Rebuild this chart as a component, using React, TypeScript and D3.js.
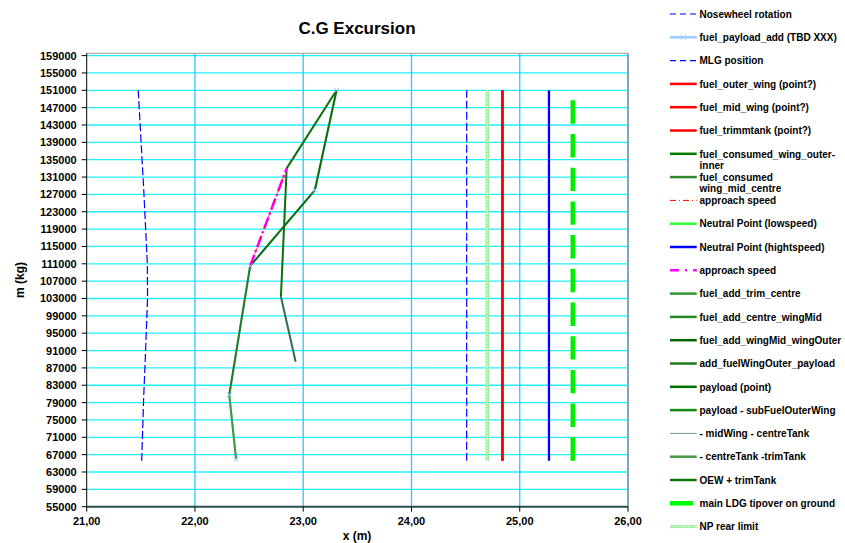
import React from "react";
import * as d3 from "d3";

const W = 845;
const H = 543;

// ---- ticks ----
const xTickValues = [21, 22, 23, 24, 25, 26];
const yTickValues = [
  55000, 59000, 63000, 67000, 71000, 75000, 79000, 83000, 87000, 91000, 95000, 99000, 103000,
  107000, 111000, 115000, 119000, 123000, 127000, 131000, 135000, 139000, 143000, 147000, 151000,
  155000, 159000,
];

// ---- series data: [x (m), mass (kg)] ----
const nosewheelRotation: [number, number][] = [
  [21.476, 151000], [21.527, 128000], [21.56, 111000], [21.562, 103000], [21.541, 89000], [21.526, 80000], [21.508, 65600],
];
const fuelPayloadAdd: [number, number][] = [
  [22.38, 65900], [22.317, 80800], [22.51, 110500], [23.108, 128000], [23.308, 151000],
];
const mlgPosition: [number, number][] = [[24.51, 65600], [24.51, 151000]];
const fuelOuterWing: [number, number][] = [[24.84, 65600], [24.84, 151000]];
const fuelMidWing: [number, number][] = [[24.84, 65600], [24.84, 151000]];
const fuelTrimmtank: [number, number][] = [[24.84, 65600], [24.84, 151000]];
const neutralPointLow: [number, number][] = [[24.7, 65600], [24.7, 151000]];
const neutralPointHigh: [number, number][] = [[25.27, 65600], [25.27, 151000]];
const mainLdgTipover: [number, number][] = [[25.49, 65600], [25.49, 151000]];
const npRearLimit: [number, number][] = [[24.7, 65600], [24.7, 151000]];
const approachSpeedRed: [number, number][] = [[22.51, 110500], [22.847, 133000]];
const approachSpeedMagenta: [number, number][] = [[22.51, 110500], [22.847, 133000]];
const oewTrimTank: [number, number][] = [[22.38, 65900], [22.317, 80800]];
const fuelAddCentreWingMid: [number, number][] = [[22.317, 80800], [22.51, 110500]];
const fuelAddWingMidWingOuter: [number, number][] = [[22.51, 110500], [23.108, 128000]];
const addFuelWingOuterPayload: [number, number][] = [[23.108, 128000], [23.308, 151000]];
const payloadSubFuelOuterWing: [number, number][] = [[23.308, 151000], [22.847, 133000]];
const fuelConsumedWingMidCentre: [number, number][] = [[22.847, 133000], [22.794, 103400]];
const centreTankTrimTank: [number, number][] = [[22.794, 103400], [22.93, 88400]];

// ---- legend ----
const legendNames = [
  "Nosewheel rotation",
  "fuel_payload_add (TBD XXX)",
  "MLG position",
  "fuel_outer_wing (point?)",
  "fuel_mid_wing (point?)",
  "fuel_trimmtank (point?)",
  "fuel_consumed_wing_outer-\ninner",
  "fuel_consumed\nwing_mid_centre",
  "approach speed",
  "Neutral Point (lowspeed)",
  "Neutral Point (hightspeed)",
  "approach speed",
  "fuel_add_trim_centre",
  "fuel_add_centre_wingMid",
  "fuel_add_wingMid_wingOuter",
  "add_fuelWingOuter_payload",
  "payload (point)",
  "payload - subFuelOuterWing",
  "- midWing - centreTank",
  "- centreTank -trimTank",
  "OEW + trimTank",
  "main LDG tipover on ground",
  "NP rear limit",
];

type Sty = { color: string; width: number; dash?: string; marker?: boolean; special?: string };
const legendStyles: Sty[] = [
  { color: "#0000FF", width: 1.2, dash: "6 4" },
  { color: "#99CCFF", width: 2.5, marker: true },
  { color: "#0000FF", width: 1.2, dash: "6 4" },
  { color: "#FF0000", width: 2.5 },
  { color: "#FF0000", width: 2.5 },
  { color: "#FF0000", width: 2.5 },
  { color: "#007A00", width: 2.5 },
  { color: "#2E8B2E", width: 2.5 },
  { color: "#FF0000", width: 1, dash: "6 3 1 3" },
  { color: "#33FF33", width: 2.5 },
  { color: "#0000FF", width: 2.5 },
  { color: "#FF00FF", width: 2.5, dash: "9 6 2 6" },
  { color: "#339933", width: 2.5 },
  { color: "#228B22", width: 2.5 },
  { color: "#006400", width: 2.5 },
  { color: "#1E7B1E", width: 2.5 },
  { color: "#007000", width: 2.5 },
  { color: "#118811", width: 2.5 },
  { color: "#669999", width: 1 },
  { color: "#449944", width: 2.5 },
  { color: "#117711", width: 2.5 },
  { color: "#00FF00", width: 4.5, special: "ldg" },
  { color: "#99EE99", width: 3, special: "np" },
];

const FONT = "'Liberation Sans', Arial, Helvetica, sans-serif";

export default function App() {
  const left = 86.7, right = 628, top = 53.3, bottom = 506.7;
  const x = d3.scaleLinear().domain([21, 26]).range([left, right]);
  const y = d3.scaleLinear().domain([55000, 159530]).range([bottom, top]);
  const line = d3.line<[number, number]>().x((d) => x(d[0])).y((d) => y(d[1]));
  const fmtX = (v: number) => v.toFixed(2).replace(".", ",");

  const path = (d: [number, number][], color: string, width: number, dash?: string, key?: string) => (
    <path key={key} d={line(d) || ""} fill="none" stroke={color} strokeWidth={width} strokeDasharray={dash} strokeLinejoin="round" />
  );
  const markerX = (px: number, py: number, color: string, key: string, s = 2.5) => (
    <g key={key} stroke={color} strokeWidth={1}>
      <line x1={px - s} y1={py - s} x2={px + s} y2={py + s} />
      <line x1={px - s} y1={py + s} x2={px + s} y2={py - s} />
    </g>
  );

  // vertical lines drawn from bottom upward so dash pattern starts at bottom
  return (
    <svg width={W} height={H} style={{ position: "absolute", left: 0, top: 0, background: "#fff" }} fontFamily={FONT}>
      <rect x={0} y={0} width={W} height={H} fill="#fff" />
      {/* grid */}
      {yTickValues.map((v) => (
        <line key={"gy" + v} x1={left} x2={right} y1={y(v)} y2={y(v)} stroke="#22EEFF" strokeWidth={1.3} />
      ))}
      {xTickValues.slice(1, -1).map((v) => (
        <line key={"gx" + v} x1={x(v)} x2={x(v)} y1={top} y2={bottom} stroke="#22CCFF" strokeWidth={1.3} />
      ))}
      {/* plot border */}
      <line x1={left} x2={right} y1={top} y2={top} stroke="#999" strokeWidth={1} />
      <line x1={right} x2={right} y1={top} y2={bottom} stroke="#7FA8B8" strokeWidth={2} />
      <line x1={left} x2={right} y1={bottom} y2={bottom} stroke="#2F4F4F" strokeWidth={2} />
      <line x1={left} x2={left} y1={top} y2={bottom} stroke="#000" strokeWidth={1} />

      {/* ticks */}
      {yTickValues.map((v) => (
        <g key={"ty" + v}>
          <line x1={left - 5} x2={left} y1={y(v)} y2={y(v)} stroke="#000" strokeWidth={1} />
          <text x={left - 10} y={y(v) + 4} fontSize={11} fontWeight="bold" textAnchor="end" fill="#000">
            {v}
          </text>
        </g>
      ))}
      {xTickValues.map((v) => (
        <g key={"tx" + v}>
          <line x1={x(v)} x2={x(v)} y1={bottom} y2={bottom + 5} stroke="#000" strokeWidth={1} />
          <text x={x(v)} y={bottom + 18} fontSize={11} fontWeight="bold" textAnchor="middle" fill="#000">
            {fmtX(v)}
          </text>
        </g>
      ))}

      {/* titles */}
      <text x={357} y={34} fontSize={17} fontWeight="bold" textAnchor="middle">C.G Excursion</text>
      <text x={357} y={540} fontSize={12} fontWeight="bold" textAnchor="middle">x (m)</text>
      <text transform={`translate(24,${(top + bottom) / 2}) rotate(-90)`} fontSize={12} fontWeight="bold" textAnchor="middle">m (kg)</text>

      {/* series */}
      {path(nosewheelRotation, "#0000FF", 1.2, "8 3")}
      {path(fuelPayloadAdd, "#99CCFF", 2)}
      {path(mlgPosition, "#0000FF", 1.2, "8 3")}
      {path(fuelOuterWing, "#FF0000", 2.3)}
      {path(fuelMidWing, "#FF0000", 2.3)}
      {path(fuelTrimmtank, "#FF0000", 2.3)}
      {path(neutralPointLow, "#66FF66", 2)}
      {path(npRearLimit, "#99EE99", 3.5)}
      {path(npRearLimit, "#F0FFF0", 1.4, "1.5 1.5")}
      {path(neutralPointHigh, "#0000FF", 2.3)}
      {path(mainLdgTipover, "#00EE00", 4.5, "23.4 10.3")}
      {path(oewTrimTank, "#3A9A3A", 2)}
      {path(fuelAddCentreWingMid, "#1F7F1F", 2)}
      {path(fuelAddWingMidWingOuter, "#0A700A", 2)}
      {path(addFuelWingOuterPayload, "#0A700A", 2)}
      {path(payloadSubFuelOuterWing, "#0A700A", 2)}
      {path(fuelConsumedWingMidCentre, "#0A700A", 2)}
      {path(centreTankTrimTank, "#2F6F4F", 2)}
      {path(approachSpeedMagenta, "#FF00FF", 2.5, "12 3 2 3")}
      {path(approachSpeedRed, "#FF0000", 0.8, "6 3 1 3")}
      {fuelPayloadAdd.map((d, i) => markerX(x(d[0]), y(d[1]), "#99CCFF", "m" + i))}

      {/* legend */}
      {legendNames.map((name, i) => {
        const ly = 14 + i * 23.3;
        const s = legendStyles[i];
        const lines = name.split("\n");
        let swatch;
        if (s.special === "np") {
          swatch = (
            <g>
              <line x1={670} x2={696.7} y1={ly} y2={ly} stroke="#99EE99" strokeWidth={3} />
              <line x1={670} x2={696.7} y1={ly} y2={ly} stroke="#F0FFF0" strokeWidth={1.2} strokeDasharray="1.5 1.5" />
            </g>
          );
        } else if (s.special === "ldg") {
          swatch = <line x1={670} x2={693} y1={ly} y2={ly} stroke={s.color} strokeWidth={s.width} />;
        } else {
          swatch = (
            <g>
              <line x1={670} x2={696.7} y1={ly} y2={ly} stroke={s.color} strokeWidth={s.width} strokeDasharray={s.dash} />
              {s.marker ? markerX(683.3, ly, "#99CCFF", "lm") : null}
            </g>
          );
        }
        return (
          <g key={"lg" + i}>
            {swatch}
            <text x={699.5} y={ly + 3.7} fontSize={10} fontWeight="bold" fill="#000">
              {lines.map((t, j) => (
                <tspan key={j} x={699.5} dy={j === 0 ? 0 : 11.4}>
                  {t}
                </tspan>
              ))}
            </text>
          </g>
        );
      })}
    </svg>
  );
}
